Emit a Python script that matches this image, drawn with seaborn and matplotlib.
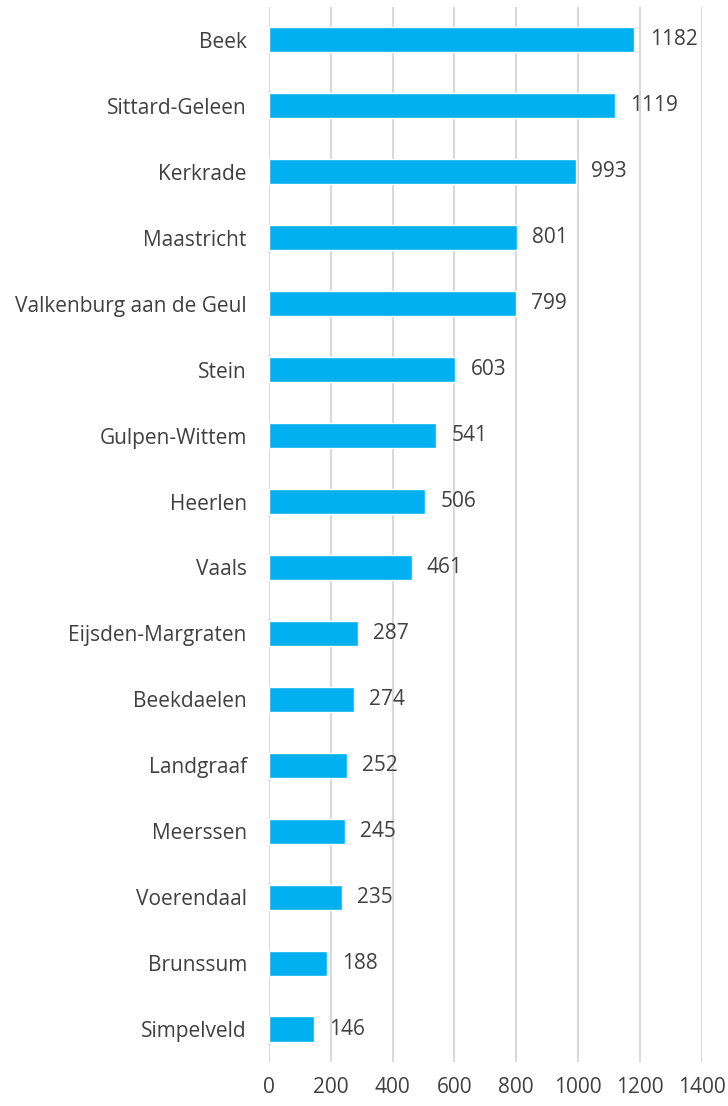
import seaborn as sns
import matplotlib.pyplot as plt
import pandas as pd

# Gemeenten en waarden, van boven naar beneden
gemeenten = ["Beek", "Sittard-Geleen", "Kerkrade", "Maastricht",
             "Valkenburg aan de Geul", "Stein", "Gulpen-Wittem", "Heerlen",
             "Vaals", "Eijsden-Margraten", "Beekdaelen", "Landgraaf",
             "Meerssen", "Voerendaal", "Brunssum", "Simpelveld"]
waarden = [1182, 1119, 993, 801, 799, 603, 541, 506,
           461, 287, 274, 252, 245, 235, 188, 146]
x_ticks = [0, 200, 400, 600, 800, 1000, 1200, 1400]

df = pd.DataFrame({"gemeente": gemeenten, "waarde": waarden})

sns.set_style("white")
plt.rcParams['font.family'] = ['Open Sans', 'DejaVu Sans']

fig = plt.figure(figsize=(7.28, 11.06), dpi=100)
ax = fig.add_axes([0.3695, 0.0398, 0.5945, 0.9539])

sns.barplot(data=df, x="waarde", y="gemeente", orient="h",
            color="#00b0f0", saturation=1, width=0.38, ax=ax)

# Labels rechts van de balken
ax.bar_label(ax.containers[0], padding=11, fontsize=15, color="#404040")

ax.set_xlim(0, 1400)
ax.set_ylim(15.5, -0.5)
ax.set_xticks(x_ticks)
ax.set_xlabel("")
ax.set_ylabel("")
ax.xaxis.grid(True, color="#d9d9d9", linewidth=1.5)
ax.set_axisbelow(True)
for s in ax.spines.values():
    s.set_visible(False)
ax.tick_params(axis="y", length=0, pad=16, labelsize=15, labelcolor="#404040")
ax.tick_params(axis="x", length=0, pad=11, labelsize=15, labelcolor="#404040")

fig.savefig("out.png", dpi=100)
